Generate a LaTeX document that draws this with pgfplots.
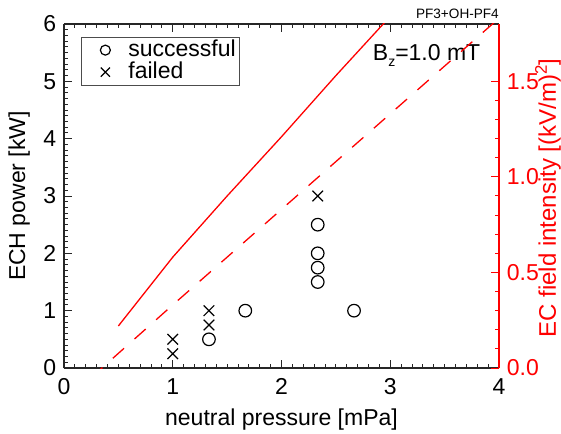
\documentclass[border=0pt]{standalone}
\usepackage{pgfplots}
\pgfplotsset{compat=1.18}
\usepackage{fontspec}
\setmainfont{Liberation Sans}
\begin{document}
\fontsize{23}{27}\selectfont
\begin{tikzpicture}
\useasboundingbox (-64pt,-65pt) rectangle (497pt,368pt);
\begin{axis}[
  name=ax,
  scale only axis, width=435pt, height=344pt,
  at={(0,0)}, anchor=south west,
  xmin=0, xmax=4, ymin=0, ymax=6,
  axis y line*=left,
  xtick={0,1,2,3,4}, ytick={0,1,2,3,4,5,6},
  minor x tick num=9, minor y tick num=9,
  tick align=inside,
  major tick length=8pt, minor tick length=4pt,
  axis line style={black!85, line width=1.4pt},
  every tick/.style={black!85, line width=1pt},
  /pgf/number format/assume math mode=true,
  tick label style={font=\fontsize{23}{27}\selectfont},
  xticklabel style={yshift=-3pt},
  label style={font=\fontsize{23}{27}\selectfont},
  xlabel={neutral pressure [mPa]},
  ylabel={ECH power [kW]},
  xlabel style={yshift=2pt},
  ylabel style={yshift=-2pt},
  legend style={at={(0.039,0.963)}, anchor=north west, draw=black!70, line width=0.8pt,
    font=\fontsize{23}{27}\selectfont, row sep=0pt, inner sep=2pt,
    nodes={inner sep=2pt, text height=15pt, text depth=3pt}},
  legend cell align=left,
  clip=false,
]
\addplot[only marks, mark=o, mark size=6.3pt, mark options={line width=1.2pt, black},
  legend image code/.code={\path[draw=none] (0pt,0pt) -- (43pt,0pt); \draw[mark size=5pt] plot[only marks] coordinates {(22pt,0pt)};}] coordinates {
 (1.333,0.5) (1.667,1.0) (2.333,1.5) (2.333,1.75) (2.333,2.0) (2.333,2.5) (2.667,1.0)
};
\addlegendentry{successful\hspace{7pt}}
\addplot[only marks, mark=x, mark size=7.5pt, mark options={line width=1.2pt, black},
  legend image code/.code={\path[draw=none] (0pt,0pt) -- (43pt,0pt); \draw[mark size=6.5pt] plot[only marks] coordinates {(22pt,0pt)};}] coordinates {
 (1.0,0.25) (1.0,0.5) (1.333,0.75) (1.333,1.0) (2.333,3.0)
};
\addlegendentry{failed}
\node[anchor=base west, inner sep=0pt, font=\fontsize{23}{27}\selectfont] at (rel axis cs:0.7097,0.895) {B\raisebox{-0.28em}{\fontsize{14}{14}\selectfont z}=1.0 mT};
\node[anchor=base east, font=\fontsize{13.6}{15}\selectfont, inner sep=0pt] at (rel axis cs:1,1) [yshift=6pt] {PF3+OH-PF4};
\end{axis}
\begin{axis}[
  scale only axis, width=435pt, height=344pt,
  at={(0,0)}, anchor=south west,
  xmin=0, xmax=4, ymin=0, ymax=1.8,
  axis y line*=right, axis x line=none,
  ytick={0,0.5,1.0,1.5}, minor y tick num=4,
  tick align=inside,
  major tick length=8pt, minor tick length=4pt,
  axis line style={red, line width=1.2pt},
  every tick/.style={red, line width=1pt},
  /pgf/number format/assume math mode=true,
  yticklabel style={red, font=\fontsize{23}{27}\selectfont, /pgf/number format/.cd, fixed, fixed zerofill, precision=1},
]
\addplot[red, line width=1.3pt] coordinates {
 (0.5,0.22) (1.0,0.58) (1.5,0.90) (2.0,1.21) (2.5,1.53) (3.0,1.84)
};
\addplot[red, line width=1.3pt, dash pattern=on 15pt off 14pt] coordinates {
 (0.25,-0.05) (1,0.33) (2,0.83) (3,1.33) (4,1.83)
};
\end{axis}
\node[red, rotate=90, anchor=center, inner sep=0pt, font=\fontsize{24}{28}\selectfont] at ([xshift=49pt,yshift=-2pt]ax.east) {EC field intensity [(kV/m)\textsuperscript{2}]};
\end{tikzpicture}
\end{document}
